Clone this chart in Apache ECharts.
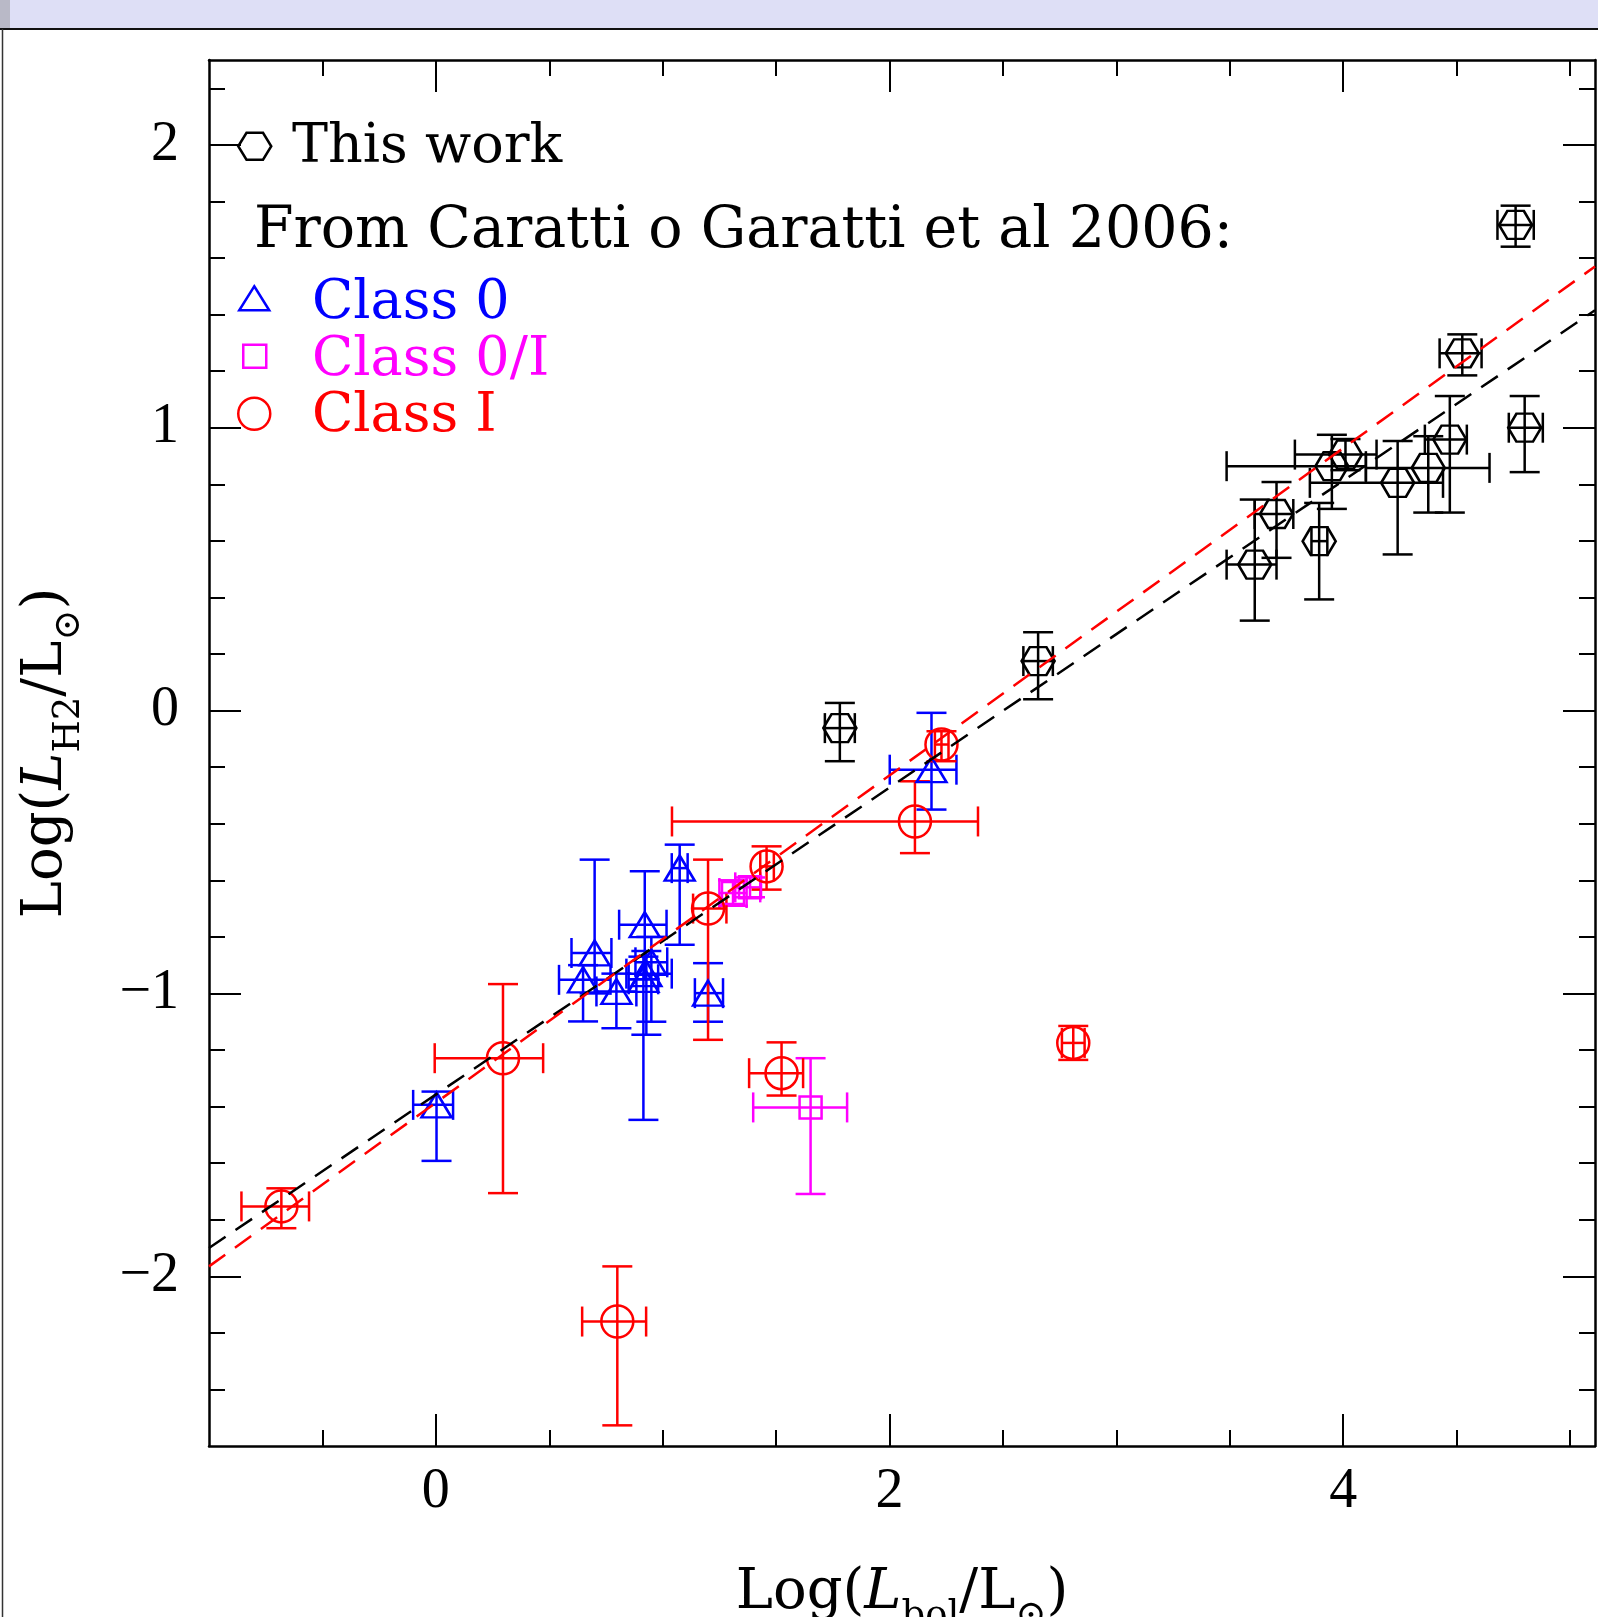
<!DOCTYPE html>
<html>
<head>
<meta charset="utf-8">
<style>
  html, body { margin: 0; padding: 0; background: #fff; }
  #chart { width: 1598px; height: 1617px; }
</style>
<script src="https://cdn.jsdelivr.net/npm/echarts@6/dist/echarts.min.js"></script>
</head>
<body>
<div id="chart"></div>
<script>
// Axis ranges and tick positions
const xRange = [-1, 5.11];
const yRange = [-2.6, 2.3];
const xMajorTicks = [0, 2, 4];
const xMinorTicks = [-0.5, 0.5, 1, 1.5, 2.5, 3, 3.5, 4.5, 5];
const yMajorTicks = [-2, -1, 0, 1, 2];
const yMinorTicks = [-2.4, -2.2, -1.8, -1.6, -1.4, -1.2, -0.8, -0.6, -0.4, -0.2,
                     0.2, 0.4, 0.6, 0.8, 1.2, 1.4, 1.6, 1.8, 2.2];

// Each source: [log Lbol, log LH2, x low, x high, y low, y high]
const thisWork = [
  [4.76, 1.717, 4.68, 4.84, 1.64, 1.785],
  [4.525, 1.263, 4.425, 4.61, 1.185, 1.33],
  [4.80, 1.00, 4.73, 4.88, 0.843, 1.112],
  [4.47, 0.958, 4.36, 4.545, 0.70, 1.112],
  [4.375, 0.858, 4.10, 4.645, 0.70, 0.97],
  [4.24, 0.805, 3.853, 4.44, 0.552, 0.953],
  [3.706, 0.695, 3.61, 3.78, 0.54, 0.808],
  [3.61, 0.516, 3.486, 3.706, 0.318, 0.746],
  [3.894, 0.599, 3.86, 3.93, 0.393, 0.734],
  [3.95, 0.864, 3.486, 4.10, 0.713, 0.975],
  [4.01, 0.905, 3.787, 4.147, 0.85, 0.96],
  [1.781, -0.062, 1.715, 1.847, -0.179, 0.027],
  [2.655, 0.175, 2.59, 2.72, 0.04, 0.277]
];
const class0 = [
  [0.003, -1.394, -0.10, 0.076, -1.592, -1.347],
  [1.075, -0.557, 1.04, 1.11, -0.828, -0.474],
  [1.20, -0.999, 1.142, 1.266, -1.10, -0.893],
  [2.185, -0.209, 2.001, 2.295, -0.35, -0.008],
  [0.70, -0.857, 0.598, 0.774, -1.00, -0.527],
  [0.649, -0.952, 0.543, 0.77, -1.099, -0.90],
  [0.796, -0.993, 0.708, 0.884, -1.123, -0.93],
  [0.921, -0.757, 0.808, 1.017, -0.95, -0.568],
  [0.928, -0.93, 0.84, 1.04, -1.146, -0.85],
  [0.95, -0.89, 0.88, 1.02, -1.10, -0.80],
  [0.915, -0.95, 0.85, 0.98, -1.447, -0.87]
];
const class0I = [
  [1.31, -0.645, 1.25, 1.37, -0.69, -0.60],
  [1.385, -0.625, 1.32, 1.43, -0.66, -0.59],
  [1.652, -1.403, 1.399, 1.813, -1.709, -1.229]
];
const classI = [
  [-0.681, -1.753, -0.857, -0.559, -1.83, -1.689],
  [0.296, -1.229, -0.005, 0.473, -1.706, -0.967],
  [0.80, -2.16, 0.645, 0.927, -2.527, -1.965],
  [1.20, -0.70, 1.134, 1.281, -1.164, -0.527],
  [1.458, -0.551, 1.43, 1.49, -0.633, -0.48],
  [1.524, -1.282, 1.381, 1.619, -1.361, -1.173],
  [2.112, -0.392, 1.041, 2.39, -0.504, -0.25],
  [2.229, -0.12, 2.20, 2.26, -0.179, -0.073],
  [2.81, -1.175, 2.76, 2.86, -1.235, -1.115]
];
// Linear fits: all sources (black) and Class I only (red)
const fitAll = [[-1, -1.90], [5.11, 1.415]];
const fitClassI = [[-1, -1.965], [5.11, 1.57]];

const BLACK = '#000000', BLUE = '#0000ff', MAGENTA = '#ff00ff', RED = '#ff0000';
const HEX = 'path://M0,0.866L0.5,0L1.5,0L2,0.866L1.5,1.732L0.5,1.732Z';
const TRI = 'path://M1,0L2,1.7L0,1.7Z';
const SQR = 'path://M0,0L1,0L1,1L0,1Z';
const CAP = 15;
const SERIF = 'DejaVu Serif';
const TICKFONT = 'Liberation Serif';

function errorBars(color) {
  return function (params, api) {
    const x = api.value(0), y = api.value(1);
    const l = api.coord([api.value(2), y]);
    const r = api.coord([api.value(3), y]);
    const b = api.coord([x, api.value(4)]);
    const t = api.coord([x, api.value(5)]);
    const seg = (x1, y1, x2, y2) => ({
      type: 'line', shape: { x1, y1, x2, y2 },
      style: { stroke: color, lineWidth: 2.5, fill: null }
    });
    return {
      type: 'group',
      children: [
        seg(l[0], l[1], r[0], r[1]),
        seg(l[0], l[1] - CAP, l[0], l[1] + CAP),
        seg(r[0], r[1] - CAP, r[0], r[1] + CAP),
        seg(b[0], b[1], t[0], t[1]),
        seg(b[0] - CAP, b[1], b[0] + CAP, b[1]),
        seg(t[0] - CAP, t[1], t[0] + CAP, t[1])
      ]
    };
  };
}

function axis(dim, position, ticks, len, showLine, extra) {
  const range = dim === 'x' ? xRange : yRange;
  return Object.assign({
    type: 'value', position, min: range[0], max: range[1],
    axisLine: { show: showLine, onZero: false, lineStyle: { color: '#000', width: 2.5 } },
    axisTick: { show: true, inside: true, length: len, customValues: ticks,
                lineStyle: { color: '#000', width: 2 } },
    axisLabel: { show: false },
    splitLine: { show: false },
    silent: true
  }, extra || {});
}

const nameRich = {
  n: { fontFamily: SERIF, fontSize: 56, color: '#000', lineHeight: 84 },
  i: { fontFamily: SERIF, fontSize: 56, fontStyle: 'italic', color: '#000', lineHeight: 84 },
  s: { fontFamily: SERIF, fontSize: 37, color: '#000', lineHeight: 40, verticalAlign: 'bottom' }
};
const tickLabel = (margin, ticks) => ({
  show: true, customValues: ticks, margin,
  fontFamily: TICKFONT, fontSize: 56, color: '#000',
  formatter: v => String(v).replace('-', '\u2212')
});

function scatter(name, data, symbol, size, color) {
  return {
    type: 'scatter', name, data, symbol, symbolSize: size, silent: true,
    encode: { x: 0, y: 1 },
    itemStyle: { color: 'rgba(0,0,0,0)', borderColor: color, borderWidth: 2.5, opacity: 1 },
    z: 4
  };
}
function bars(name, data, color) {
  return {
    type: 'custom', name, data, renderItem: errorBars(color), silent: true,
    encode: { x: 0, y: 1 }, z: 3
  };
}
// Legend entries: the symbol and its label are laid out by two separate legends
function legendIcon(name, icon, color, left, centerY, w, h) {
  return {
    data: [{ name, icon, itemStyle: { color: 'rgba(0,0,0,0)', borderColor: color, borderWidth: 2.5 } }],
    left, top: centerY - h / 2, itemWidth: w, itemHeight: h, padding: 0,
    selectedMode: false, symbolKeepAspect: false,
    formatter: () => '', textStyle: { fontSize: 1 }
  };
}
function legendText(name, color, textLeft, capCenterY) {
  return {
    data: [{ name, icon: 'rect', itemStyle: { color: 'rgba(0,0,0,0)', borderWidth: 0 },
             textStyle: { color } }],
    left: textLeft - 6, top: capCenterY - 22, itemWidth: 1, itemHeight: 1, padding: 0,
    selectedMode: false,
    textStyle: { fontFamily: SERIF, fontSize: 54, color }
  };
}

const chart = echarts.init(document.getElementById('chart'), null, { renderer: 'canvas' });
chart.setOption({
  animation: false,
  backgroundColor: '#ffffff',
  grid: { left: 209, right: 3, top: 60, bottom: 171, outerBoundsMode: 'none', containLabel: false },
  title: {
    text: 'From Caratti o Garatti et al 2006:', left: 254, top: 204, padding: 0,
    textStyle: { fontFamily: SERIF, fontSize: 57, fontWeight: 'normal', color: '#000' }
  },
  legend: [
    legendIcon('This work', HEX, BLACK, 237, 145, 33, 27),
    legendText('This work', BLACK, 292, 143),
    legendIcon('Class 0', TRI, BLUE, 238, 297, 30, 24),
    legendText('Class 0', BLUE, 312, 298.5),
    legendIcon('Class 0/I', SQR, MAGENTA, 242, 355, 23, 23),
    legendText('Class 0/I', MAGENTA, 312, 356.2),
    legendIcon('Class I', 'circle', RED, 237, 412.5, 32, 32),
    legendText('Class I', RED, 312, 412)
  ],
  xAxis: [
    axis('x', 'bottom', xMajorTicks, 32, true, {
      axisLabel: tickLabel(18, xMajorTicks),
      name: '{n|Log(}{i|L}{s|bol}{n|/L}{s|\u2299}{n|)}',
      nameLocation: 'middle', nameGap: 105,
      nameTextStyle: { rich: nameRich }
    }),
    axis('x', 'bottom', xMinorTicks, 16, false),
    axis('x', 'top', xMajorTicks, 32, true),
    axis('x', 'top', xMinorTicks, 16, false)
  ],
  yAxis: [
    axis('y', 'left', yMajorTicks, 32, true, {
      axisLabel: tickLabel(30, yMajorTicks),
      name: '{n|Log(}{i|L}{s|H2}{n|/L}{s|\u2299}{n|)}',
      nameLocation: 'middle', nameGap: 121, nameRotate: 90,
      nameTextStyle: { rich: nameRich }
    }),
    axis('y', 'left', yMinorTicks, 16, false),
    axis('y', 'right', yMajorTicks, 32, true),
    axis('y', 'right', yMinorTicks, 16, false)
  ],
  series: [
    {
      type: 'line', name: 'fit all', data: fitAll, symbol: 'none', silent: true,
      lineStyle: { color: BLACK, width: 2.5, type: [20, 12] }, z: 5
    },
    {
      type: 'line', name: 'fit Class I', data: fitClassI, symbol: 'none', silent: true,
      lineStyle: { color: RED, width: 2.5, type: [20, 12] }, z: 5
    },
    bars('This work bars', thisWork, BLACK),
    scatter('This work', thisWork, HEX, [33, 28], BLACK),
    bars('Class 0 bars', class0, BLUE),
    scatter('Class 0', class0, TRI, [30, 25], BLUE),
    bars('Class 0/I bars', class0I, MAGENTA),
    scatter('Class 0/I', class0I, SQR, [22, 22], MAGENTA),
    bars('Class I bars', classI, RED),
    scatter('Class I', classI, 'circle', [32, 32], RED)
  ],
  graphic: [
    { type: 'rect', shape: { x: 0, y: 0, width: 1598, height: 28 }, style: { fill: '#dedff6' }, z: 100 },
    { type: 'rect', shape: { x: 0, y: 0, width: 10, height: 28 }, style: { fill: '#b9b9c7' }, z: 101 },
    { type: 'line', shape: { x1: 0, y1: 29, x2: 1598, y2: 29 }, style: { stroke: '#111', lineWidth: 2 }, z: 101 },
    { type: 'line', shape: { x1: 2.5, y1: 29, x2: 2.5, y2: 1617 }, style: { stroke: '#333', lineWidth: 1.5 }, z: 101 }
  ]
});
</script>
</body>
</html>
